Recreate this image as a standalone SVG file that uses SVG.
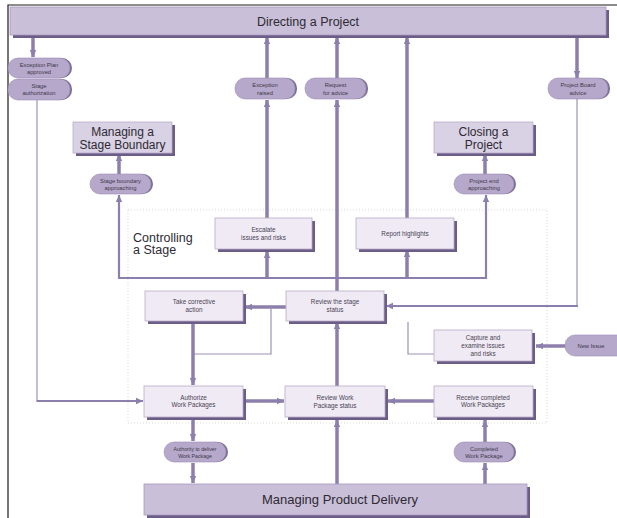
<svg xmlns="http://www.w3.org/2000/svg" width="617" height="518" viewBox="0 0 617 518">
<style>
.bar{fill:#c9bfd8;stroke:#a898bd;stroke-width:0.8}
.barsh{fill:#6c5c88}
.box{fill:#efeaf4;stroke:#b9adc9;stroke-width:0.8}
.boxsh{fill:#6c5c88}
.pill{fill:#b5a8cb;stroke:#9d8fb7;stroke-width:0.6}
.pillsh{fill:#7b6c98}
.big{font-family:"Liberation Sans",Arial,sans-serif;fill:#2e2a33}
.sm{font-family:"Liberation Sans",Arial,sans-serif;font-size:6.3px;fill:#4a4353;text-anchor:middle}
.ps{font-family:"Liberation Sans",Arial,sans-serif;font-size:5.8px;fill:#3f3849;text-anchor:middle}
.thick{stroke:#8d7fab;stroke-width:3.5;fill:none}
.med{stroke:#8d7fab;stroke-width:2.2;fill:none}
.thin{stroke:#9d91b6;stroke-width:1.2;fill:none}
</style>
<defs>
<marker id="ah" markerUnits="userSpaceOnUse" markerWidth="8" markerHeight="8" viewBox="0 0 8 8" refX="7" refY="4" orient="auto">
<path d="M0,0.8 L7,4 L0,7.2 Z" fill="#8d7fab"/>
</marker>
</defs>
<rect width="617" height="518" fill="#ffffff"/>
<path d="M8,518 V5 H617" stroke="#1a1a1a" stroke-width="1.2" fill="none"/>
<rect x="128" y="210" width="419" height="213" fill="none" stroke="#cfcfcf" stroke-width="0.8" stroke-dasharray="1,2"/>

<g id="connectors">
<line class="thick" x1="33" y1="37" x2="33" y2="57" marker-end="url(#ah)"/>
<line class="thin" x1="37" y1="100" x2="37" y2="401"/>
<line class="med" x1="36.5" y1="401" x2="143" y2="401" marker-end="url(#ah)"/>
<line class="thick" x1="267" y1="218" x2="267" y2="100" marker-end="url(#ah)"/>
<line class="thick" x1="267" y1="78" x2="267" y2="37" marker-end="url(#ah)"/>
<line class="thick" x1="337" y1="291" x2="337" y2="100" marker-end="url(#ah)"/>
<line class="thick" x1="337" y1="78" x2="337" y2="37" marker-end="url(#ah)"/>
<line class="thick" x1="407" y1="218" x2="407" y2="37" marker-end="url(#ah)"/>
<line class="thick" x1="577" y1="37" x2="577" y2="78" marker-end="url(#ah)"/>
<line class="thin" x1="577" y1="99" x2="577" y2="306"/>
<line class="med" x1="578" y1="306" x2="386" y2="306" marker-end="url(#ah)"/>
<line class="thick" x1="119" y1="174" x2="119" y2="154" marker-end="url(#ah)"/>
<line class="thick" x1="485" y1="174" x2="485" y2="154" marker-end="url(#ah)"/>
<path class="med" d="M119,278 H486"/>
<line class="med" x1="119" y1="279" x2="119" y2="195" marker-end="url(#ah)"/>
<line class="thick" x1="267" y1="278" x2="267" y2="251" marker-end="url(#ah)"/>
<line class="thick" x1="407" y1="278" x2="407" y2="250" marker-end="url(#ah)"/>
<line class="med" x1="486" y1="279" x2="486" y2="195" marker-end="url(#ah)"/>
<line class="thick" x1="286" y1="307" x2="245" y2="307" marker-end="url(#ah)"/>
<path class="thin" d="M271,307 V354 H193"/>
<line class="thick" x1="193" y1="322" x2="193" y2="385" marker-end="url(#ah)"/>
<line class="thick" x1="246" y1="401" x2="284" y2="401" marker-end="url(#ah)"/>
<line class="thick" x1="337" y1="386" x2="337" y2="322" marker-end="url(#ah)"/>
<line class="thick" x1="337" y1="484" x2="337" y2="420" marker-end="url(#ah)"/>
<line class="thick" x1="434" y1="401" x2="388" y2="401" marker-end="url(#ah)"/>
<line class="thick" x1="485" y1="442" x2="485" y2="420" marker-end="url(#ah)"/>
<line class="thick" x1="485" y1="484" x2="485" y2="463" marker-end="url(#ah)"/>
<line class="thick" x1="193" y1="420" x2="193" y2="441" marker-end="url(#ah)"/>
<line class="thick" x1="193" y1="463" x2="193" y2="483" marker-end="url(#ah)"/>
<path class="thin" d="M434,354 H408 V322"/>
<line class="thick" x1="566" y1="346" x2="536" y2="346" marker-end="url(#ah)"/>
</g>

<g id="directing">
<rect class="barsh" x="13" y="10" width="596" height="28"/>
<rect class="bar" x="10" y="7" width="596" height="28"/>
<text class="big" x="308" y="26" font-size="12.5" text-anchor="middle">Directing a Project</text>
</g>

<g id="mpd">
<rect class="barsh" x="147" y="487" width="383" height="31"/>
<rect class="bar" x="144" y="484" width="383" height="31"/>
<text class="big" x="340" y="504" font-size="13" text-anchor="middle">Managing Product Delivery</text>
</g>

<g id="msb">
<rect class="boxsh" x="76" y="125" width="99" height="31"/>
<rect class="box" x="73" y="122" width="99" height="31" style="fill:#d9d1e4"/>
<text class="big" x="122.5" y="136" font-size="12" text-anchor="middle">Managing a</text>
<text class="big" x="122.5" y="148.5" font-size="12" text-anchor="middle">Stage Boundary</text>
</g>

<g id="closing">
<rect class="boxsh" x="437" y="125" width="99" height="31"/>
<rect class="box" x="434" y="122" width="99" height="31" style="fill:#d9d1e4"/>
<text class="big" x="483.5" y="136" font-size="12" text-anchor="middle">Closing a</text>
<text class="big" x="483.5" y="148.5" font-size="12" text-anchor="middle">Project</text>
</g>

<g id="controlling-label">
<text class="big" x="133" y="241.5" font-size="12.5">Controlling</text>
<text class="big" x="133" y="254" font-size="12.5">a Stage</text>
</g>

<g id="escalate">
<rect class="boxsh" x="218" y="221" width="97" height="31"/>
<rect class="box" x="215" y="218" width="97" height="31"/>
<text class="sm" x="263.5" y="232">Escalate</text>
<text class="sm" x="263.5" y="240">issues and risks</text>
</g>

<g id="report">
<rect class="boxsh" x="359" y="221" width="98" height="31"/>
<rect class="box" x="356" y="218" width="98" height="31"/>
<text class="sm" x="405" y="236">Report highlights</text>
</g>

<g id="corrective">
<rect class="boxsh" x="148" y="294" width="98" height="30"/>
<rect class="box" x="145" y="291" width="98" height="30"/>
<text class="sm" x="194" y="304">Take corrective</text>
<text class="sm" x="194" y="311.5">action</text>
</g>

<g id="review-stage">
<rect class="boxsh" x="289" y="294" width="98" height="30"/>
<rect class="box" x="286" y="291" width="98" height="30"/>
<text class="sm" x="335" y="304">Review the stage</text>
<text class="sm" x="335" y="311.5">status</text>
</g>

<g id="capture">
<rect class="boxsh" x="437" y="333" width="98" height="31"/>
<rect class="box" x="434" y="330" width="98" height="31"/>
<text class="sm" x="483" y="340">Capture and</text>
<text class="sm" x="483" y="348">examine issues</text>
<text class="sm" x="483" y="356">and risks</text>
</g>

<g id="authorize">
<rect class="boxsh" x="147" y="389" width="99" height="31"/>
<rect class="box" x="144" y="386" width="99" height="31"/>
<text class="sm" x="193.5" y="399.5">Authorize</text>
<text class="sm" x="193.5" y="407">Work Packages</text>
</g>

<g id="review-wp">
<rect class="boxsh" x="288" y="389" width="100" height="31"/>
<rect class="box" x="285" y="386" width="100" height="31"/>
<text class="sm" x="335" y="399.5">Review Work</text>
<text class="sm" x="335" y="407.5">Package status</text>
</g>

<g id="receive">
<rect class="boxsh" x="437" y="389" width="99" height="31"/>
<rect class="box" x="434" y="386" width="99" height="31"/>
<text class="sm" x="483" y="399.5">Receive completed</text>
<text class="sm" x="483" y="407">Work Packages</text>
</g>

<g id="pill-exception-plan">
<rect class="pillsh" x="10" y="58" width="62" height="20" rx="10"/>
<rect class="pill" x="8" y="58" width="62" height="20" rx="10"/>
<text class="ps" x="39" y="66.5">Exception Plan</text>
<text class="ps" x="39" y="74">approved</text>
</g>

<g id="pill-stage-auth">
<rect class="pillsh" x="10" y="79" width="62" height="21" rx="10"/>
<rect class="pill" x="8" y="79" width="62" height="21" rx="10"/>
<text class="ps" x="39" y="87.5">Stage</text>
<text class="ps" x="39" y="95">authorization</text>
</g>

<g id="pill-exception-raised">
<rect class="pillsh" x="237" y="78" width="60" height="21" rx="10"/>
<rect class="pill" x="235" y="78" width="60" height="21" rx="10"/>
<text class="ps" x="265" y="87">Exception</text>
<text class="ps" x="265" y="94.5">raised</text>
</g>

<g id="pill-request">
<rect class="pillsh" x="307" y="78" width="61" height="21" rx="10"/>
<rect class="pill" x="305" y="78" width="61" height="21" rx="10"/>
<text class="ps" x="335.5" y="87">Request</text>
<text class="ps" x="335.5" y="94.5">for advice</text>
</g>

<g id="pill-board-advice">
<rect class="pillsh" x="550" y="78" width="60" height="21" rx="10"/>
<rect class="pill" x="548" y="78" width="60" height="21" rx="10"/>
<text class="ps" x="578" y="87">Project Board</text>
<text class="ps" x="578" y="94.5">advice</text>
</g>

<g id="pill-stage-boundary">
<rect class="pillsh" x="92" y="174" width="61" height="20" rx="10"/>
<rect class="pill" x="90" y="174" width="61" height="20" rx="10"/>
<text class="ps" x="120.5" y="182.5">Stage boundary</text>
<text class="ps" x="120.5" y="190">approaching</text>
</g>

<g id="pill-project-end">
<rect class="pillsh" x="456" y="174" width="60" height="20" rx="10"/>
<rect class="pill" x="454" y="174" width="60" height="20" rx="10"/>
<text class="ps" x="484" y="182.5">Project end</text>
<text class="ps" x="484" y="190">approaching</text>
</g>

<g id="pill-new-issue">
<rect class="pill" x="565" y="335" width="62" height="21" rx="10"/>
<text class="ps" x="591" y="348">New Issue</text>
</g>

<g id="pill-authority">
<rect class="pillsh" x="166" y="442" width="62" height="20" rx="10"/>
<rect class="pill" x="164" y="442" width="62" height="20" rx="10"/>
<text class="ps" x="195" y="450.5" style="font-size:5.2px">Authority to deliver</text>
<text class="ps" x="195" y="458" style="font-size:5.2px">Work Package</text>
</g>

<g id="pill-completed">
<rect class="pillsh" x="456" y="442" width="60" height="20" rx="10"/>
<rect class="pill" x="454" y="442" width="60" height="20" rx="10"/>
<text class="ps" x="484" y="450.5">Completed</text>
<text class="ps" x="484" y="458">Work Package</text>
</g>
</svg>
